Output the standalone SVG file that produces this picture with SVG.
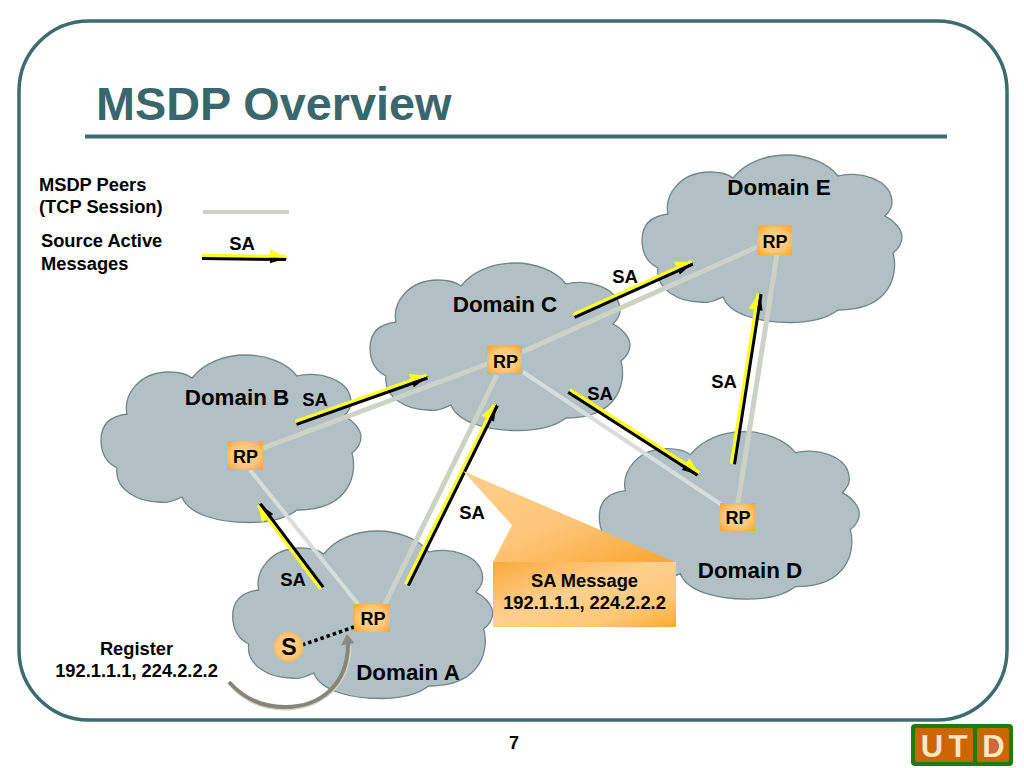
<svg xmlns="http://www.w3.org/2000/svg" width="1024" height="768" viewBox="0 0 1024 768">
<style>
text{font-family:"Liberation Sans",Arial,sans-serif;font-weight:bold;fill:#000}
.dom{font-size:22.4px;text-anchor:middle}
.rp{font-size:18px;text-anchor:middle}
.sa{font-size:18.5px;text-anchor:middle}
.leg{font-size:18.3px}
.ctr{font-size:18.3px;text-anchor:middle}
.cloud{fill:#b1c0c5;stroke:#6f8586;stroke-width:1.3}
.rpbox{fill:url(#orange)}
.peer{stroke:#cdd2c6;stroke-width:5;fill:none}
.peerl{stroke:#d6dddb;stroke-width:4;fill:none}
.ay{stroke:#ffff1e;stroke-width:3.4;fill:none;marker-end:url(#hy)}
.ab{stroke:#000;stroke-width:3;fill:none;marker-end:url(#hb)}
.logo{font-size:31px;fill:#fbe6c8;text-anchor:middle}
</style>
<defs>
<radialGradient id="orange" cx="50%" cy="50%" r="68%"><stop offset="0" stop-color="#fdd596"/><stop offset="0.55" stop-color="#fdc878"/><stop offset="1" stop-color="#fba432"/></radialGradient>
<linearGradient id="callbox" x1="0" y1="0" x2="1" y2="1"><stop offset="0" stop-color="#fca93a"/><stop offset="0.45" stop-color="#fdd08e"/><stop offset="0.75" stop-color="#fdc878"/><stop offset="1" stop-color="#fca92e"/></linearGradient>
<linearGradient id="calltail" x1="0" y1="0" x2="1" y2="1"><stop offset="0" stop-color="#fdcf8a"/><stop offset="0.5" stop-color="#fdc67a"/><stop offset="1" stop-color="#fba52e"/></linearGradient>
<marker id="hy" markerUnits="userSpaceOnUse" markerWidth="22" markerHeight="16" refX="12" refY="6" orient="auto" overflow="visible"><path d="M-4,-1L14,7.5L-4,7.5Z" fill="#ffff1e"/></marker>
<marker id="hb" markerUnits="userSpaceOnUse" markerWidth="22" markerHeight="16" refX="12" refY="6" orient="auto" overflow="visible"><path d="M-4,4.5L14,4.5L-4,10Z" fill="#000"/></marker>
<path id="cl" class="cloud" d="M12,95C12,78 22,71 38,69C34,50 50,27 80,27C90,27 98,29 103,33C115,18 135,10 157,10C178,10 198,18 208,31C225,26 262,32 262,58C262,62 259,67 255,71C265,76 272,85 272,92C272,98 268,104 263,108C268,125 264,165 208,165C195,175 175,177.5 160,177.5C130,177.5 100,170 93,152C80,158 75,158 70,157C50,157 25,145 28,123C18,118 12,108 12,95Z"/>
</defs>
<rect width="1024" height="768" fill="#fff"/>
<g id="frame">
<rect x="19" y="21" width="988" height="699" rx="70" ry="70" fill="#fff" stroke="#3d6b72" stroke-width="3.5"/>
<text x="96" y="120" font-size="46.8" style="fill:#3a666c">MSDP Overview</text>
<line x1="85" y1="136.500" x2="947" y2="136.500" stroke="#3d6b72" stroke-width="4"/>
</g>
<g id="domain-e"><use href="#cl" x="630" y="145"/><text class="dom" x="779" y="195">Domain E</text></g>
<g id="domain-c"><use href="#cl" x="358" y="253"/><text class="dom" x="505" y="312">Domain C</text></g>
<g id="domain-b"><use href="#cl" x="89" y="345"/><text class="dom" x="237" y="405">Domain B</text></g>
<g id="domain-d"><use href="#cl" x="587.300" y="421.700"/><text class="dom" x="750" y="578">Domain D</text></g>
<g id="domain-a"><use href="#cl" x="220.700" y="521"/><text class="dom" x="408" y="680">Domain A</text></g>
<g id="connectors">
<line class="peer" x1="203" y1="212" x2="289" y2="212" style="stroke-width:4"/>
<line class="peer" x1="258" y1="450" x2="490" y2="363"/>
<line class="peer" x1="522" y1="352" x2="757" y2="247"/>
<line class="peerl" x1="523" y1="372" x2="722" y2="505"/>
<line class="peer" x1="738" y1="503" x2="777" y2="254"/>
<line class="peer" x1="385" y1="604" x2="497" y2="375"/>
<line class="peerl" x1="250" y1="470" x2="358" y2="604"/>
<g transform="translate(202,257) rotate(0.7)"><line class="ay" x1="0" y1="-1.500" x2="84" y2="-1.500"/><line class="ab" x1="0" y1="1.500" x2="84" y2="1.500"/></g>
<g transform="translate(296,423) rotate(-19.500)"><line class="ay" x1="0" y1="-1.500" x2="139" y2="-1.500"/><line class="ab" x1="0" y1="1.500" x2="139" y2="1.500"/></g>
<g transform="translate(574,316) rotate(-24.200)"><line class="ay" x1="0" y1="-1.500" x2="129.600" y2="-1.500"/><line class="ab" x1="0" y1="1.500" x2="129.600" y2="1.500"/></g>
<g transform="translate(569,391) rotate(32.700)"><line class="ay" x1="0" y1="-1.500" x2="153.600" y2="-1.500"/><line class="ab" x1="0" y1="1.500" x2="153.600" y2="1.500"/></g>
<g transform="translate(733,464) rotate(-81.100)"><line class="ay" x1="0" y1="-1.500" x2="172" y2="-1.500"/><line class="ab" x1="0" y1="1.500" x2="172" y2="1.500"/></g>
<g transform="translate(407,585) rotate(-63.700)"><line class="ay" x1="0" y1="-1.500" x2="201" y2="-1.500"/><line class="ab" x1="0" y1="1.500" x2="201" y2="1.500"/></g>
<g transform="translate(322,588) rotate(-127)"><line class="ay" x1="0" y1="-1.500" x2="104.400" y2="-1.500"/><line class="ab" x1="0" y1="1.500" x2="104.400" y2="1.500"/></g>
<line x1="302" y1="645" x2="354" y2="627" stroke="#000" stroke-width="3.500" stroke-dasharray="3.500 3"/>
<path d="M230,684C245,702 265,709 285,709C320,709 350,686 350,646" fill="none" stroke="#d4d4c0" stroke-width="3"/>
<path d="M229,682C245,700 265,707 285,707C320,707 348,685 348,644" fill="none" stroke="#85857a" stroke-width="4"/>
<path d="M347,634L354.500,643L341,645.500Z" fill="#8a8a80"/>
</g>
<g id="rp-e"><rect class="rpbox" x="757" y="226" width="35" height="29"/><text class="rp" x="775" y="248">RP</text></g>
<g id="rp-c"><rect class="rpbox" x="487" y="346" width="35" height="28"/><text class="rp" x="505.500" y="368">RP</text></g>
<g id="rp-b"><rect class="rpbox" x="227" y="441" width="36" height="29"/><text class="rp" x="245.500" y="463">RP</text></g>
<g id="rp-d"><rect class="rpbox" x="720" y="503" width="35" height="28"/><text class="rp" x="738" y="524">RP</text></g>
<g id="rp-a"><rect class="rpbox" x="354" y="604" width="36" height="28"/><text class="rp" x="373" y="625">RP</text></g>
<g id="source-s"><circle cx="288.500" cy="647" r="15" fill="url(#orange)"/><text x="289" y="655" font-size="23" text-anchor="middle">S</text></g>
<g id="sa-message">
<path d="M463,471L675,562L493,562L512,525Z" fill="url(#calltail)"/>
<rect x="493" y="562" width="183" height="65" fill="url(#callbox)"/>
<text class="ctr" x="584.500" y="587">SA Message</text>
<text class="ctr" x="584.500" y="609">192.1.1.1, 224.2.2.2</text>
</g>
<g id="labels">
<text class="leg" x="39" y="191">MSDP Peers</text>
<text class="leg" x="39" y="213">(TCP Session)</text>
<text class="leg" x="41" y="247">Source Active</text>
<text class="leg" x="41" y="270">Messages</text>
<text class="sa" x="242" y="250">SA</text>
<text class="sa" x="625" y="283">SA</text>
<text class="sa" x="600" y="400">SA</text>
<text class="sa" x="724" y="388">SA</text>
<text class="sa" x="315" y="406">SA</text>
<text class="sa" x="472" y="519">SA</text>
<text class="sa" x="293" y="586">SA</text>
<text class="ctr" x="136.500" y="655">Register</text>
<text class="ctr" x="136.500" y="677">192.1.1.1, 224.2.2.2</text>
<text x="514" y="749" font-size="18" text-anchor="middle">7</text>
</g>
<g id="logo">
<rect x="911" y="724" width="102" height="42" rx="4" fill="#1f7a10"/>
<rect x="915" y="728" width="58" height="34" rx="2" fill="#cc6600"/>
<rect x="977" y="728" width="32" height="34" rx="2" fill="#cc6600"/>
<text class="logo" x="932" y="757">U</text>
<text class="logo" x="958" y="757">T</text>
<text class="logo" x="993.500" y="757">D</text>
<path d="M989,738C995,739 999,742 999,746C999,750 995,753 989,754Z" fill="#d2683a"/>
</g>
</svg>
